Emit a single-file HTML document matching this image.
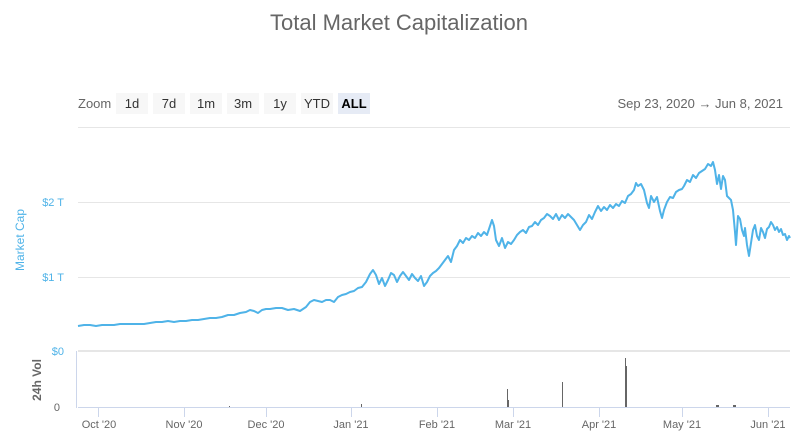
<!DOCTYPE html>
<html><head><meta charset="utf-8"><style>
body{margin:0;background:#fff;font-family:"Liberation Sans",sans-serif;}
</style></head><body>
<svg width="799" height="439" xmlns="http://www.w3.org/2000/svg" font-family="Liberation Sans, sans-serif">
<text x="399" y="30" text-anchor="middle" font-size="22" fill="#666">Total Market Capitalization</text>
<text x="78" y="108" font-size="13" fill="#666">Zoom</text>
<g font-size="13" fill="#333" text-anchor="middle">
<rect x="116" y="93" width="32" height="21" fill="#f7f7f7"/><text x="132" y="108">1d</text>
<rect x="153" y="93" width="32" height="21" fill="#f7f7f7"/><text x="169" y="108">7d</text>
<rect x="190" y="93" width="32" height="21" fill="#f7f7f7"/><text x="206" y="108">1m</text>
<rect x="227" y="93" width="32" height="21" fill="#f7f7f7"/><text x="243" y="108">3m</text>
<rect x="264" y="93" width="32" height="21" fill="#f7f7f7"/><text x="280" y="108">1y</text>
<rect x="301" y="93" width="32" height="21" fill="#f7f7f7"/><text x="317" y="108">YTD</text>
<rect x="338" y="93" width="32" height="21" fill="#e6ebf5"/><text x="354" y="108" font-weight="bold" fill="#000">ALL</text>
</g>
<text x="783" y="108" font-size="13" fill="#666" text-anchor="end">Sep 23, 2020 → Jun 8, 2021</text>
<line x1="78" y1="127.5" x2="790" y2="127.5" stroke="#e6e6e6"/>
<line x1="78" y1="202.5" x2="790" y2="202.5" stroke="#e6e6e6"/>
<line x1="78" y1="277.5" x2="790" y2="277.5" stroke="#e6e6e6"/>
<line x1="78" y1="351" x2="790" y2="351" stroke="#e6e6e6" stroke-width="2"/>
<g font-size="11" fill="#4fb3e8" text-anchor="end">
<text x="64" y="206">$2 T</text><text x="64" y="281">$1 T</text><text x="64" y="355">$0</text>
</g>
<text x="60" y="411" font-size="11" fill="#666" text-anchor="end">0</text>
<text transform="translate(24,240) rotate(-90)" font-size="12" fill="#4fb3e8" text-anchor="middle">Market Cap</text>
<text transform="translate(41,380) rotate(-90)" font-size="12" font-weight="bold" fill="#666" text-anchor="middle">24h Vol</text>
<line x1="76.5" y1="351" x2="76.5" y2="408" stroke="#ccd6eb"/>
<line x1="78" y1="407.5" x2="790" y2="407.5" stroke="#ccd6eb"/>
<g stroke="#ccd6eb">
<line x1="98.5" y1="408" x2="98.5" y2="417"/><line x1="184.5" y1="408" x2="184.5" y2="417"/><line x1="266.5" y1="408" x2="266.5" y2="417"/><line x1="351.5" y1="408" x2="351.5" y2="417"/><line x1="437.5" y1="408" x2="437.5" y2="417"/><line x1="513.5" y1="408" x2="513.5" y2="417"/><line x1="599.5" y1="408" x2="599.5" y2="417"/><line x1="682.5" y1="408" x2="682.5" y2="417"/><line x1="768.5" y1="408" x2="768.5" y2="417"/>
</g>
<g font-size="11" fill="#666" text-anchor="middle">
<text x="99" y="428">Oct '20</text><text x="184" y="428">Nov '20</text><text x="266" y="428">Dec '20</text><text x="351" y="428">Jan '21</text><text x="437" y="428">Feb '21</text><text x="513" y="428">Mar '21</text><text x="599" y="428">Apr '21</text><text x="682" y="428">May '21</text><text x="768" y="428">Jun '21</text>
</g>
<g fill="#666">
<rect x="625" y="358" width="1" height="49"/><rect x="626" y="366" width="1" height="41"/>
<rect x="562" y="382" width="1" height="25"/><rect x="507" y="389" width="1" height="18"/><rect x="508" y="400" width="1" height="7"/>
<rect x="361" y="404" width="1" height="3"/><rect x="716" y="405" width="3" height="2"/><rect x="733" y="405" width="3" height="2"/><rect x="229" y="406" width="1" height="1"/>
</g>
<polyline fill="none" stroke="#4fb3e8" stroke-width="2" stroke-linejoin="round" points="
78,326 84,325 90,325 96,326 102,325 108,325 114,325 120,324 126,324 132,324 138,324 144,324 150,323 156,322 162,322 168,321 174,322 180,321 186,321 192,320 198,320 204,319 210,318 216,318 222,317 228,315 234,315 240,313 246,312 250,310 254,311 258,313 262,310 266,309 270,309 276,308 282,308 288,310 294,309 300,311 306,307 310,302 314,300 318,301 322,302 326,300 330,300 334,302 338,297 342,295 346,294 350,292 354,291 358,288 362,287 366,282 370,274 373,270 376,275 379,284 382,278 385,286 388,280 391,273 394,275 397,282 400,276 403,272 406,276 409,280 412,274 415,278 418,281 421,276 424,286 427,282 430,276 433,273 436,271 439,268 442,264 445,260 448,256 451,262 454,250 457,246 460,240 463,243 466,238 469,240 472,236 475,238 478,233 481,236 484,232 487,235 490,226 492,220 494,226 496,240 499,246 502,238 505,248 508,242 511,244 514,240 517,235 520,232 523,230 526,233 529,227 532,226 535,222 538,225 541,220 544,218 547,214 550,216 553,219 556,214 559,220 562,215 565,218 568,214 571,217 574,220 577,225 580,230 583,225 586,222 589,215 592,219 595,212 598,206 601,211 604,207 607,210 610,205 613,208 616,204 619,206 622,201 625,203 628,196 631,194 634,190 636,183 638,186 641,184 644,190 647,203 649,208 651,196 654,202 657,197 660,211 662,218 664,210 667,202 670,197 673,198 676,192 679,190 682,189 684,186 687,180 690,182 693,175 696,178 699,173 702,171 705,169 708,164 711,166 713,162 715,170 717,184 719,175 721,189 723,176 725,180 727,196 729,198 731,200 733,210 735,232 736,245 738,216 740,219 742,230 744,236 745,228 747,245 749,256 751,243 753,230 755,225 757,236 759,240 761,228 763,232 765,238 767,229 769,227 771,222 773,225 775,230 777,227 779,232 781,229 783,235 785,234 787,240 789,236 790,238"/>
</svg>
</body></html>
